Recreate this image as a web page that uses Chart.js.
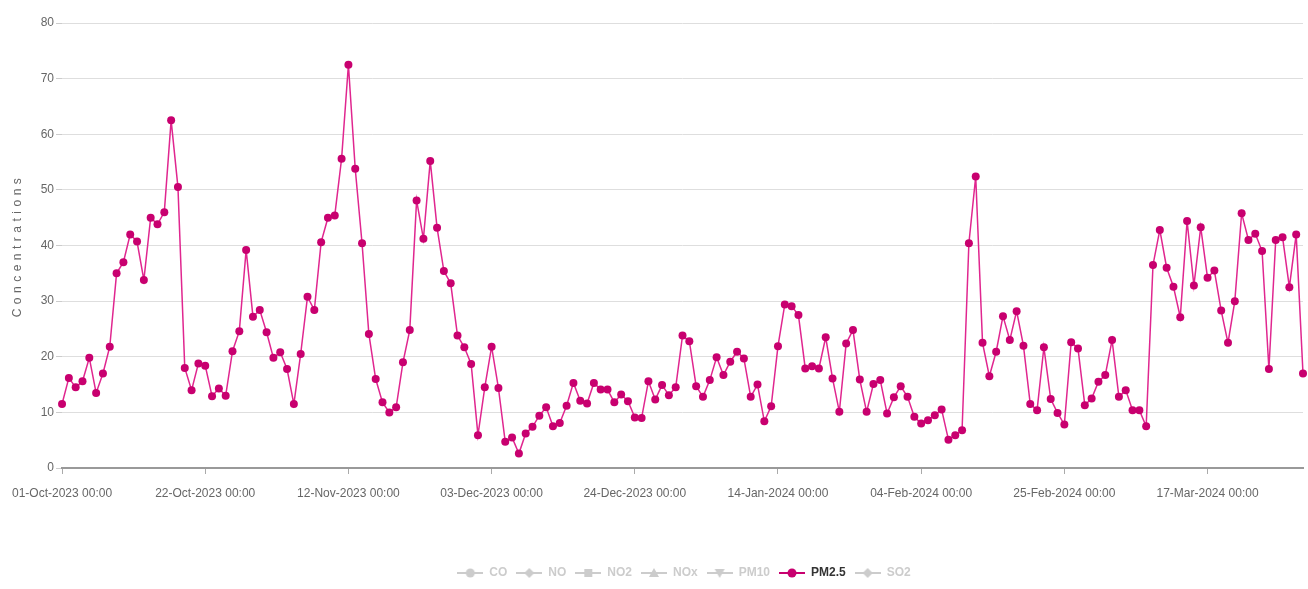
<!DOCTYPE html>
<html>
<head>
<meta charset="utf-8">
<script src="https://cdn.jsdelivr.net/npm/chart.js@4"></script>
<style>
html,body{margin:0;padding:0;background:#fff}
#wrap{width:1308px;height:589px}
</style>
</head>
<body>
<div id="wrap"><canvas id="grafica"></canvas></div>
<script>

// tick labels on the time axis, one every 21 days
const etiquetasEje = [
"01-Oct-2023 00:00","22-Oct-2023 00:00","12-Nov-2023 00:00","03-Dec-2023 00:00",
"24-Dec-2023 00:00","14-Jan-2024 00:00","04-Feb-2024 00:00","25-Feb-2024 00:00",
"17-Mar-2024 00:00"
]

const contaminantes = ["CO","NO","NO2","NOx","PM10","PM2.5","SO2"]
const activo = "PM2.5"

// daily PM2.5, 01-Oct-2023 .. 31-Mar-2024
const pm25 = [
11.5,16.2,14.5,15.6,19.8,13.5,17,21.8,35,37,42,40.7,33.8,45,43.8,46,62.5,50.5,18,14,18.8,
18.4,12.9,14.3,13,21,24.6,39.2,27.2,28.4,24.4,19.8,20.8,17.8,11.5,20.5,30.8,28.4,40.6,45,45.4,55.6,
72.5,53.8,40.4,24.1,16,11.8,10,10.9,19,24.8,48.1,41.2,55.2,43.2,35.4,33.2,23.8,21.7,18.7,5.9,14.5,
21.8,14.4,4.7,5.5,2.6,6.2,7.4,9.4,10.9,7.5,8.1,11.2,15.3,12.1,11.6,15.3,14.1,14.1,11.8,13.2,12,
9.1,9,15.6,12.3,14.9,13.1,14.5,23.8,22.8,14.7,12.8,15.8,19.9,16.7,19.1,20.9,19.7,12.8,15,8.4,
11.1,21.9,29.4,29.1,27.5,17.9,18.3,17.9,23.5,16.1,10.1,22.4,24.8,15.9,10.1,15.1,15.8,9.8,12.7,14.7,
12.8,9.2,8,8.6,9.5,10.5,5.1,5.9,6.8,40.4,52.4,22.5,16.5,20.9,27.3,23,28.2,22,11.5,10.4,21.7,
12.4,9.9,7.8,22.6,21.5,11.3,12.5,15.5,16.7,23,12.8,14,10.4,10.4,7.5,36.5,42.8,36,32.6,27.1,44.4,
32.8,43.3,34.2,35.5,28.3,22.5,30,45.8,41,42.1,39,17.8,41,41.5,32.5,42,17
]

const ticksY = [0,10,20,30,40,50,60,70,80]

const meses = ["Jan","Feb","Mar","Apr","May","Jun","Jul","Aug","Sep","Oct","Nov","Dec"]

function fechas(n){
let lista = []
const d = new Date(2023,9,1)
for(let i=0;i<n;i++){
const dia = String(d.getDate()).padStart(2,"0")
lista.push(dia+"-"+meses[d.getMonth()]+"-"+d.getFullYear()+" 00:00")
d.setDate(d.getDate()+1)
}
return lista
}

const dias = fechas(pm25.length)

const ROSA = "#e0268f"
const ROSA_PUNTO = "#c8006f"
const GRIS = "#cccccc"
const simbolos = ["circle","diamond","square","triangle","triangleDown","circle","diamond"]

function icono(simbolo,color){
const c = document.createElement("canvas")
c.width = 26
c.height = 12
const ctx = c.getContext("2d")
ctx.strokeStyle = color
ctx.lineWidth = 2
ctx.beginPath()
ctx.moveTo(0,6)
ctx.lineTo(26,6)
ctx.stroke()
ctx.fillStyle = color
ctx.beginPath()
if(simbolo==="circle"){
ctx.arc(13,6,4.5,0,Math.PI*2)
}else if(simbolo==="square"){
ctx.rect(9,2,8,8)
}else if(simbolo==="diamond"){
ctx.moveTo(13,1);ctx.lineTo(18,6);ctx.lineTo(13,11);ctx.lineTo(8,6)
}else if(simbolo==="triangle"){
ctx.moveTo(13,1);ctx.lineTo(18,10);ctx.lineTo(8,10)
}else{
ctx.moveTo(8,2);ctx.lineTo(18,2);ctx.lineTo(13,11)
}
ctx.closePath()
ctx.fill()
return c
}

const datasets = contaminantes.map((nombre,i)=>{
const on = nombre===activo
return {
label:nombre,
data: on ? pm25 : [],
borderColor: on ? ROSA : GRIS,
backgroundColor: on ? ROSA_PUNTO : GRIS,
borderWidth:1.5,
pointRadius:4,
pointHoverRadius:5,
pointBackgroundColor: on ? ROSA_PUNTO : GRIS,
pointBorderWidth:0,
tension:0,
_icono: icono(simbolos[i], on ? ROSA_PUNTO : GRIS)
}
})

// spaced-out y title and legend nudged right, like the original
const ajustes = {
id:"ajustes",
afterLayout(chart){
const s = chart.scales.y
if(!s._espaciado){
const orig = s.drawTitle.bind(s)
s.drawTitle = function(){
this.ctx.save()
this.ctx.letterSpacing = "4.5px"
orig()
this.ctx.restore()
}
s._espaciado = true
}
chart.legend.left += 28
chart.legend.right += 28
}
}

Chart.defaults.font.family = "'Liberation Sans', Arial, sans-serif"

new Chart(document.getElementById("grafica"),{

type:"line",

data:{
labels:dias,
datasets:datasets
},

plugins:[ajustes],

options:{
responsive:true,
maintainAspectRatio:false,
animation:false,
layout:{padding:{top:23,right:5,left:9,bottom:0}},
plugins:{
tooltip:{enabled:false},
legend:{
position:"bottom",
labels:{
usePointStyle:true,
pointStyleWidth:26,
boxHeight:12,
padding:9,
font:{size:12,weight:"bold"},
generateLabels(chart){
return chart.data.datasets.map((ds,i)=>({
text:ds.label,
datasetIndex:i,
hidden:false,
pointStyle:ds._icono,
fontColor: ds.label===activo ? "#333333" : GRIS,
fillStyle:"transparent",
strokeStyle:"transparent",
lineWidth:0
}))
}
}
}
},
scales:{
x:{
type:"category",
offset:false,
afterFit(s){ s.height = 90 },
border:{color:"#999999",width:2},
grid:{drawOnChartArea:false,tickLength:6,tickColor:"#aaaaaa"},
ticks:{
autoSkip:false,
maxRotation:0,
minRotation:0,
color:"#666666",
font:{size:12},
padding:12,
callback(v,i){
return i%21===0 ? etiquetasEje[i/21] : null
}
}
},
y:{
min:ticksY[0],
max:ticksY[ticksY.length-1],
afterBuildTicks(s){ s.ticks = ticksY.map(v=>({value:v})) },
border:{display:false},
grid:{color:"#dedede",lineWidth:1,tickLength:6,tickColor:"#cccccc"},
ticks:{color:"#666666",font:{size:12},padding:2},
title:{
display:true,
text:"Concentrations",
color:"#666666",
font:{size:12},
padding:{top:0,bottom:14}
}
}
}
}

})

</script>
</body>
</html>
